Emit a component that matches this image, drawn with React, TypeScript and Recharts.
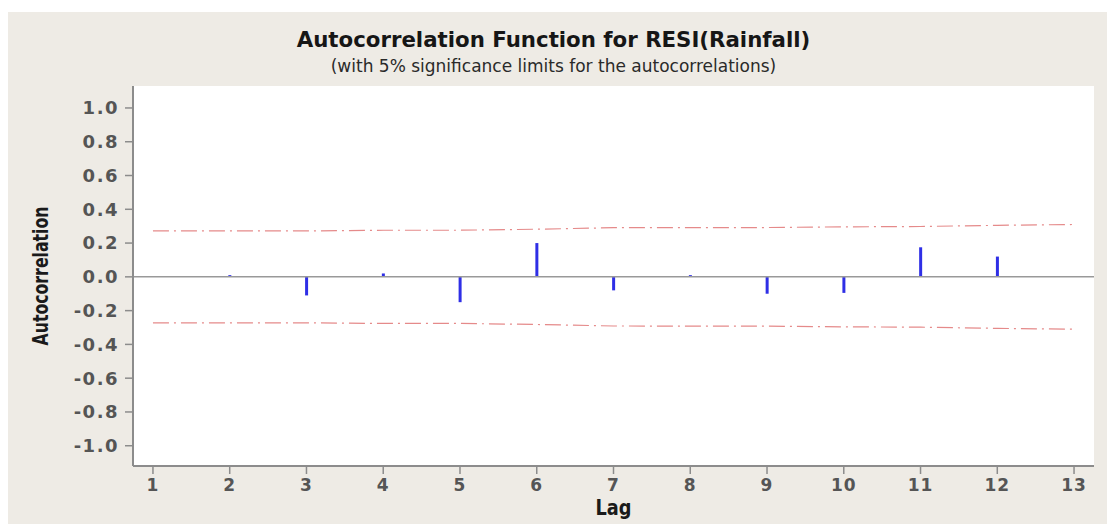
import React from 'react';
import {
  ComposedChart,
  Bar,
  Line,
  XAxis,
  YAxis,
  CartesianGrid,
  ReferenceLine,
} from 'recharts';

// Lag numbers and autocorrelations
const lags = [1, 2, 3, 4, 5, 6, 7, 8, 9, 10, 11, 12, 13];
const acfValues = [0.0, 0.01, -0.11, 0.02, -0.15, 0.2, -0.08, 0.01, -0.1, -0.095, 0.175, 0.12, null];
// 5% significance limits (upper side; lower side is the mirror)
const upperLimits = [0.272, 0.272, 0.272, 0.276, 0.276, 0.282, 0.291, 0.292, 0.292, 0.296, 0.298, 0.305, 0.31];
const lowerLimits = [-0.272, -0.272, -0.272, -0.276, -0.276, -0.282, -0.291, -0.292, -0.292, -0.296, -0.298, -0.305, -0.31];

const yTicks = [-1.0, -0.8, -0.6, -0.4, -0.2, 0.0, 0.2, 0.4, 0.6, 0.8, 1.0];
const xTicks = lags;

const data = lags.map((lag, i) => ({
  lag,
  acf: acfValues[i],
  upper: upperLimits[i],
  lower: lowerLimits[i],
}));

const X_DOMAIN: [number, number] = [0.74, 13.26];
const Y_DOMAIN: [number, number] = [-1.12, 1.13];

const AXIS_GRAY = '#8c8c8c';
const yTickStyle = {
  fontFamily: '"DejaVu Sans", Verdana, sans-serif',
  fontSize: 18,
  fontWeight: 'bold' as const,
  fill: '#555',
  letterSpacing: 1.5,
};
const xTickStyle = {
  fontFamily: '"DejaVu Sans", Verdana, sans-serif',
  fontSize: 17,
  fontWeight: 'bold' as const,
  fill: '#555',
  letterSpacing: 1,
};

const YLabel = (props: any) => {
  const { viewBox } = props;
  const x = viewBox.x + 40;
  const y = viewBox.y + viewBox.height / 2;
  return (
    <text
      x={x}
      y={y}
      transform={`rotate(-90, ${x}, ${y})`}
      textAnchor="middle"
      fontFamily="'Liberation Sans Narrow', 'Arial Narrow', 'DejaVu Sans Condensed', sans-serif"
      fontWeight="bold"
      fontSize={22}
      fill="#1a1a1a"
      textLength={139}
      lengthAdjust="spacingAndGlyphs"
    >
      Autocorrelation
    </text>
  );
};

const XLabel = (props: any) => {
  const { viewBox } = props;
  const x = viewBox.x + viewBox.width / 2;
  const y = viewBox.y + 49;
  return (
    <text
      x={x}
      y={y}
      textAnchor="middle"
      fontFamily="'Liberation Sans Narrow', 'Arial Narrow', 'DejaVu Sans Condensed', sans-serif"
      fontWeight="bold"
      fontSize={22}
      fill="#1a1a1a"
      textLength={36}
      lengthAdjust="spacingAndGlyphs"
    >
      Lag
    </text>
  );
};

export default function App() {
  return (
    <div
      style={{
        position: 'absolute',
        left: 0,
        top: 0,
        width: 1107,
        height: 525,
        background: '#fff',
        overflow: 'hidden',
      }}
    >
      <div
        style={{
          position: 'absolute',
          left: 8,
          top: 12,
          width: 1099,
          height: 512,
          background: '#eeebe5',
        }}
      >
        {/* Titles */}
        <div
          style={{
            position: 'absolute',
            left: -8,
            top: 15,
            width: 1107,
            textAlign: 'center',
            fontFamily: '"DejaVu Sans", Verdana, sans-serif',
            fontWeight: 'bold',
            fontSize: 21.3,
            lineHeight: '26px',
            color: '#161616',
          }}
        >
          Autocorrelation Function for RESI(Rainfall)
        </div>
        <div
          style={{
            position: 'absolute',
            left: -8,
            top: 44,
            width: 1107,
            textAlign: 'center',
            fontFamily: '"DejaVu Sans", Verdana, sans-serif',
            fontSize: 17,
            lineHeight: '20px',
            color: '#2a2a2a',
          }}
        >
          (with 5% significance limits for the autocorrelations)
        </div>

        <div style={{ position: 'absolute', left: 0, top: 0 }}>
          <ComposedChart
            width={1099}
            height={512}
            data={data}
            margin={{ top: 74, right: 13, bottom: 0, left: 0 }}
          >
            <CartesianGrid horizontal={false} vertical={false} fill="#ffffff" />
            <XAxis
              dataKey="lag"
              type="number"
              domain={X_DOMAIN}
              ticks={xTicks}
              allowDataOverflow
              height={58}
              tickSize={8}
              tickMargin={5}
              tick={xTickStyle}
              tickLine={{ stroke: AXIS_GRAY, strokeWidth: 1.5 }}
              axisLine={{ stroke: AXIS_GRAY, strokeWidth: 2 }}
              label={<XLabel />}
            />
            <XAxis
              xAxisId="top"
              orientation="top"
              type="number"
              domain={X_DOMAIN}
              height={0}
              tick={false}
              tickLine={false}
              axisLine={{ stroke: AXIS_GRAY, strokeWidth: 2 }}
            />
            <YAxis
              type="number"
              domain={Y_DOMAIN}
              ticks={yTicks}
              allowDataOverflow
              width={125}
              tickSize={8}
              tickMargin={6}
              tick={yTickStyle}
              tickFormatter={(v: number) => v.toFixed(1)}
              tickLine={{ stroke: AXIS_GRAY, strokeWidth: 1.5 }}
              axisLine={{ stroke: AXIS_GRAY, strokeWidth: 2 }}
              label={<YLabel />}
            />
            <YAxis
              yAxisId="right"
              orientation="right"
              type="number"
              domain={Y_DOMAIN}
              width={0}
              tick={false}
              tickLine={false}
              axisLine={{ stroke: AXIS_GRAY, strokeWidth: 2.5 }}
            />
            <ReferenceLine y={0} stroke="#999" strokeWidth={1.5} />
            <Line
              type="linear"
              dataKey="upper"
              stroke="#e58a8a"
              strokeWidth={1.2}
              strokeDasharray="16 5 2 5"
              dot={false}
              isAnimationActive={false}
            />
            <Line
              type="linear"
              dataKey="lower"
              stroke="#e58a8a"
              strokeWidth={1.2}
              strokeDasharray="16 5 2 5"
              dot={false}
              isAnimationActive={false}
            />
            <Bar dataKey="acf" fill="#2f2fe6" barSize={3} isAnimationActive={false} />
          </ComposedChart>
        </div>
      </div>
    </div>
  );
}
